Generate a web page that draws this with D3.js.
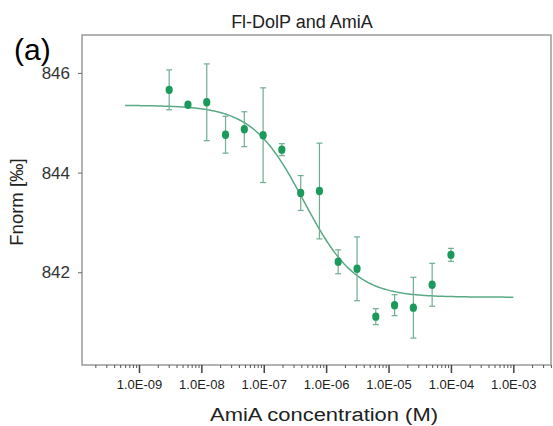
<!DOCTYPE html>
<html>
<head>
<meta charset="utf-8">
<script src="https://cdn.jsdelivr.net/npm/d3@7"></script>
<style>
  body { margin: 0; background: #fff; }
  svg { font-family: "Liberation Sans", Arial, sans-serif; }
</style>
</head>
<body>
<div id="chart"></div>
<script>
// AmiA concentration (M), 1:2 dilution series
var conc = [3.05e-9, 6.1e-9, 1.22e-8, 2.44e-8, 4.88e-8, 9.77e-8, 1.95e-7, 3.91e-7,
            7.81e-7, 1.56e-6, 3.13e-6, 6.25e-6, 1.25e-5, 2.5e-5, 5e-5, 1e-4];
// Fnorm values and error half-widths
var fnorm = [845.66, 845.36, 845.41, 844.76, 844.87, 844.75, 844.46, 843.59,
             843.63, 842.21, 842.07, 841.11, 841.34, 841.29, 841.75, 842.35];
var fnormErr = [0.40, 0.03, 0.77, 0.37, 0.35, 0.95, 0.12, 0.35,
                0.96, 0.24, 0.64, 0.16, 0.21, 0.61, 0.43, 0.13];
// fit parameters
var fitTop = 845.35, fitBottom = 841.5, fitEC50 = 4.4e-7, fitHill = 1.05;
var fitRange = [6e-10, 1e-3];

var xTicks = [1e-9, 1e-8, 1e-7, 1e-6, 1e-5, 1e-4, 1e-3];
var xTickLabels = ["1.0E-09", "1.0E-08", "1.0E-07", "1.0E-06", "1.0E-05", "1.0E-04", "1.0E-03"];
var yTicks = [842, 844, 846];

var svgWidth = 553;
var svgHeight = 426;
var margin = { top: 35, right: 2, bottom: 61, left: 82 };
var width = svgWidth - margin.left - margin.right;
var height = svgHeight - margin.top - margin.bottom;

var svg = d3.select("#chart").append("svg")
    .attr("width", svgWidth)
    .attr("height", svgHeight);

var chartGroup = svg.append("g")
    .attr("transform", `translate(${margin.left}, ${margin.top})`);

var xScale = d3.scaleLog()
    .domain([Math.pow(10, -9.913), Math.pow(10, -2.396)])
    .range([0, width]);

var yScale = d3.scaleLinear()
    .domain([840.14, 846.76])
    .range([height, 0]);

// frame
chartGroup.append("rect")
    .attr("width", width)
    .attr("height", height)
    .attr("fill", "none")
    .attr("stroke", "#9a9a9a")
    .attr("stroke-width", 1.5);

// x axis: minor ticks
var minor = [];
for (var e = -10; e <= -3; e++) {
  for (var m = 2; m <= 9; m++) {
    var v = m * Math.pow(10, e);
    if (v > xScale.domain()[0] && v < xScale.domain()[1]) minor.push(v);
  }
}
var xAxisG = chartGroup.append("g").attr("transform", `translate(0, ${height})`);
xAxisG.append("g")
    .call(d3.axisBottom(xScale).tickValues(minor).tickSize(3).tickFormat(""))
    .call(g => g.select(".domain").remove())
    .selectAll("line").attr("stroke", "#555");
var xMajor = xAxisG.append("g")
    .call(d3.axisBottom(xScale).tickValues(xTicks).tickSize(8).tickPadding(7)
      .tickFormat((d, i) => xTickLabels[i]));
xMajor.select(".domain").remove();
xMajor.selectAll("line").attr("stroke", "#444").attr("stroke-width", 1.5);
xMajor.selectAll("text").attr("font-size", 13).attr("fill", "#222")
    .attr("font-family", "Liberation Sans, Arial, sans-serif");

// y axis
var yAxisG = chartGroup.append("g")
    .call(d3.axisLeft(yScale).tickValues(yTicks).tickSize(4).tickPadding(8).tickFormat(d3.format("d")));
yAxisG.select(".domain").remove();
yAxisG.selectAll("line").attr("stroke", "#666");
yAxisG.selectAll("text").attr("font-size", 17).attr("fill", "#333")
    .attr("font-family", "Liberation Sans, Arial, sans-serif");

// fitted curve
var fitPts = d3.range(0, 201).map(function(i) {
  var lc = Math.log10(fitRange[0]) + i / 200 * (Math.log10(fitRange[1]) - Math.log10(fitRange[0]));
  var c = Math.pow(10, lc);
  return [c, fitBottom + (fitTop - fitBottom) / (1 + Math.pow(c / fitEC50, fitHill))];
});
chartGroup.append("path")
    .datum(fitPts)
    .attr("fill", "none")
    .attr("stroke", "#5aa985")
    .attr("stroke-width", 1.5)
    .attr("d", d3.line().x(d => xScale(d[0])).y(d => yScale(d[1])));

// error bars
var data = conc.map((c, i) => ({ c: c, y: fnorm[i], err: fnormErr[i] }));
var bars = chartGroup.selectAll(".err").data(data).enter().append("g")
    .attr("stroke", "#6fae8f").attr("stroke-width", 1.2);
bars.append("line")
    .attr("x1", d => xScale(d.c)).attr("x2", d => xScale(d.c))
    .attr("y1", d => yScale(d.y - d.err)).attr("y2", d => yScale(d.y + d.err));
bars.append("line")
    .attr("x1", d => xScale(d.c) - 3).attr("x2", d => xScale(d.c) + 3)
    .attr("y1", d => yScale(d.y - d.err)).attr("y2", d => yScale(d.y - d.err));
bars.append("line")
    .attr("x1", d => xScale(d.c) - 3).attr("x2", d => xScale(d.c) + 3)
    .attr("y1", d => yScale(d.y + d.err)).attr("y2", d => yScale(d.y + d.err));

// points
chartGroup.selectAll(".pt").data(data).enter().append("ellipse")
    .attr("cx", d => xScale(d.c))
    .attr("cy", d => yScale(d.y))
    .attr("rx", 3.6)
    .attr("ry", 4.2)
    .attr("fill", "#1b9a5b");

// texts
svg.append("text")
    .attr("x", 302).attr("y", 28)
    .attr("text-anchor", "middle")
    .attr("font-size", 18).attr("fill", "#222")
    .text("Fl-DolP and AmiA");

svg.append("text")
    .attr("x", 14).attr("y", 60)
    .attr("font-size", 30).attr("fill", "#000")
    .text("(a)");

svg.append("text")
    .attr("x", 324).attr("y", 421)
    .attr("text-anchor", "middle")
    .attr("font-size", 18).attr("fill", "#222")
    .attr("textLength", 228).attr("lengthAdjust", "spacingAndGlyphs")
    .text("AmiA concentration (M)");

svg.append("text")
    .attr("transform", "translate(23, 202) rotate(-90)")
    .attr("text-anchor", "middle")
    .attr("font-size", 18.5).attr("fill", "#222")
    .text("Fnorm [‰]");
</script>
</body>
</html>
